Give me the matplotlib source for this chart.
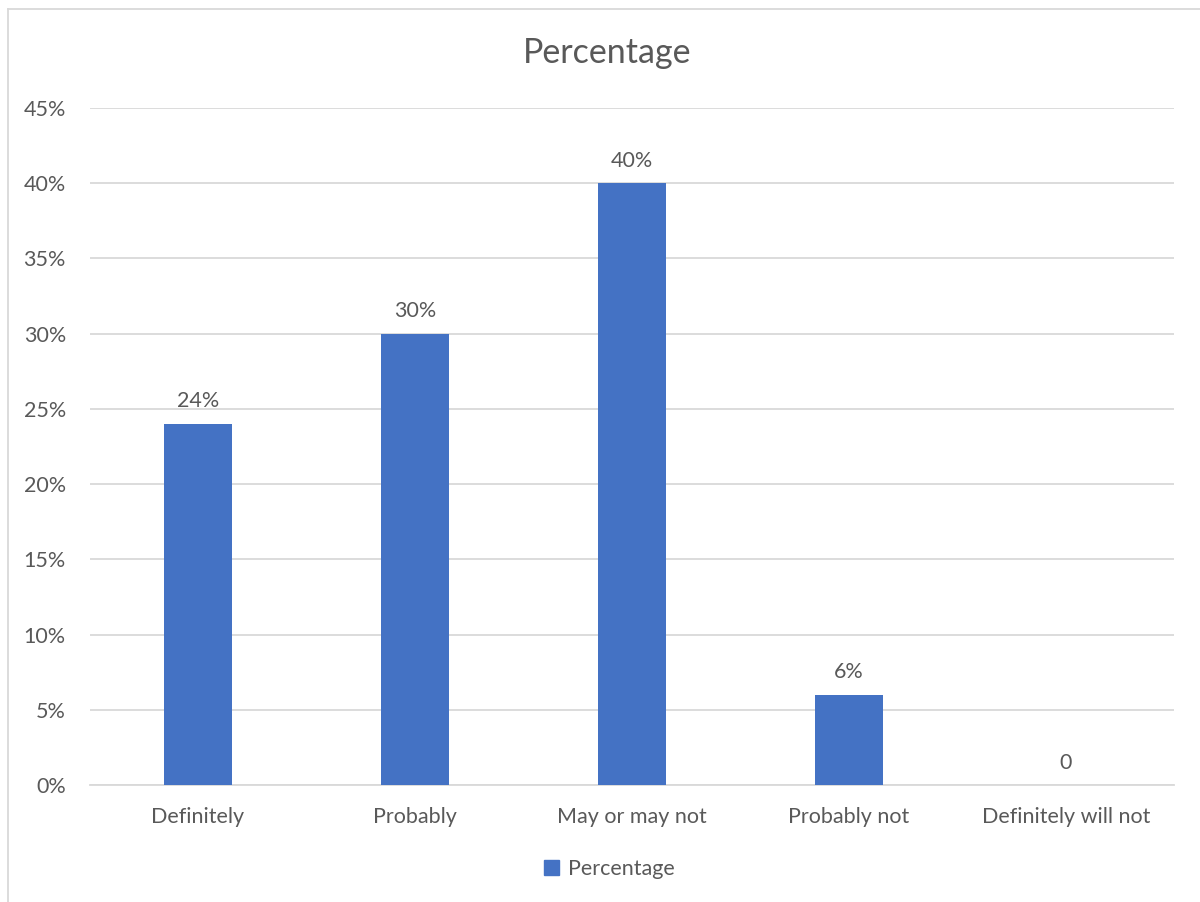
import matplotlib.pyplot as plt
from matplotlib.lines import Line2D
from matplotlib.patches import Patch

# survey answers and share of respondents
categories = ["Definitely", "Probably", "May or may not", "Probably not", "Definitely will not"]
values = [0.24, 0.30, 0.40, 0.06, 0.0]
labels = ["24%", "30%", "40%", "6%", "0"]
yticks = [0, 0.05, 0.10, 0.15, 0.20, 0.25, 0.30, 0.35, 0.40, 0.45]

BLUE = "#4472C4"
TEXT = "#595959"
GRID = "#D9D9D9"
FS = 15.5

plt.rcParams['font.family'] = ['Lato', 'DejaVu Sans']

fig = plt.figure(figsize=(12, 9.02), dpi=100)
ax = fig.add_axes([0.0746, 0.1297, 0.904, 0.7506])

x = range(len(categories))
ax.bar(x, values, width=0.31, color=BLUE, zorder=3)

for xi, v, lab in zip(x, values, labels):
    ax.annotate(lab, (xi, v), xytext=(0, 9), textcoords="offset points",
                ha="center", va="bottom", fontsize=FS, color=TEXT)

ax.set_xlim(-0.5, len(categories) - 0.5)
ax.set_ylim(0, 0.45)
ax.set_yticks(yticks)
ax.set_yticklabels([f"{int(round(t * 100))}%" for t in yticks])
ax.set_xticks(list(x))
ax.set_xticklabels(categories)
ax.tick_params(axis="both", length=0, labelsize=FS, labelcolor=TEXT)
ax.tick_params(axis="y", pad=17)
ax.tick_params(axis="x", pad=16)
ax.grid(axis="y", color=GRID, linewidth=1.3, zorder=0)
for side in ["top", "right", "left"]:
    ax.spines[side].set_visible(False)
ax.spines["bottom"].set_color(GRID)
ax.spines["bottom"].set_linewidth(1.3)

fig.text(0.506, 0.941, "Percentage", ha="center", va="center", fontsize=24.5, color=TEXT)

fig.legend(handles=[Patch(color=BLUE, label="Percentage")], loc="center",
           bbox_to_anchor=(0.508, 0.037), frameon=False, fontsize=FS,
           handlelength=0.7, handleheight=0.7, handletextpad=0.4, labelcolor=TEXT)

# chart frame (left and top edges visible)
fig.add_artist(Line2D([8 / 1200, 8 / 1200], [0, 1 - 9 / 902], color=GRID, linewidth=1.3))
fig.add_artist(Line2D([8 / 1200, 1], [1 - 9 / 902, 1 - 9 / 902], color=GRID, linewidth=1.3))

fig.savefig("out.png", dpi=100, facecolor="white")
